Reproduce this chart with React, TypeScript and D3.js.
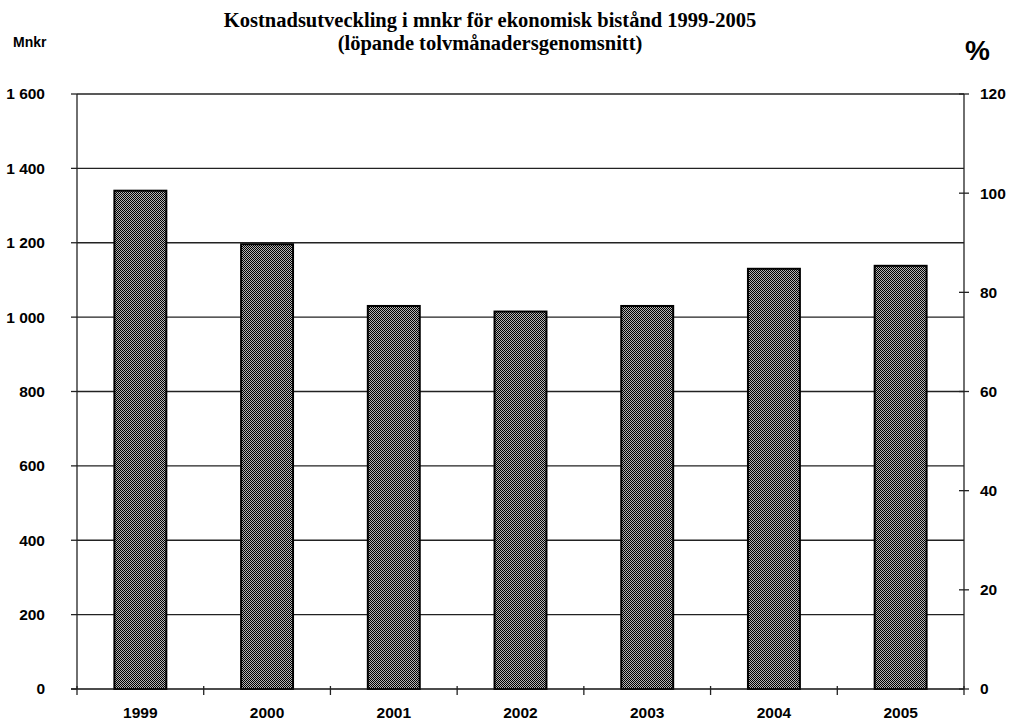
import React from "react";
import * as d3 from "d3";

const years = ["1999", "2000", "2001", "2002", "2003", "2004", "2005"];
const costs = [1340, 1196, 1030, 1015, 1030, 1130, 1138];
const leftTicks = [0, 200, 400, 600, 800, 1000, 1200, 1400, 1600];
const rightTicks = [0, 20, 40, 60, 80, 100, 120];
const titleLines = [
  "Kostnadsutveckling i mnkr för ekonomisk bistånd 1999-2005",
  "(löpande tolvmånadersgenomsnitt)",
];

const W = 1010;
const H = 723;
const L = 77;
const R = 964;
const T = 94;
const B = 689;

const fmt = (v: number) => {
  const s = String(v);
  return s.length > 3 ? s.slice(0, s.length - 3) + " " + s.slice(-3) : s;
};

export default function App() {
  const x = d3.scaleBand<string>().domain(years).range([L, R]).paddingInner(0.59).paddingOuter(0.295);
  const yL = d3.scaleLinear().domain([0, 1600]).range([B, T]);
  const yR = d3.scaleLinear().domain([0, 120]).range([B, T]);
  const step = x.step();
  const sep = d3.range(years.length + 1).map((i) => L + i * step);
  const sans = "'Liberation Sans', Arial, sans-serif";
  return (
    <svg width={W} height={H} style={{ position: "absolute", left: 0, top: 0, background: "#fff" }}>
      <defs>
        <pattern id="chk" width="2" height="2" patternUnits="userSpaceOnUse">
          <rect width="2" height="2" fill="#b4b4b4" />
          <rect x="0" y="0" width="1" height="1" fill="#000" />
          <rect x="1" y="1" width="1" height="1" fill="#000" />
        </pattern>
      </defs>
      {titleLines.map((t, i) => (
        <text key={i} x={490} y={27 + i * 23} textAnchor="middle"
          fontFamily="'Liberation Serif', 'Times New Roman', serif" fontWeight="bold" fontSize={20.5}>
          {t}
        </text>
      ))}
      <text x={13} y={47} fontFamily={sans} fontWeight="bold" fontSize={14}>Mnkr</text>
      <text x={965} y={60} fontFamily={sans} fontWeight="bold" fontSize={28}>%</text>
      {leftTicks.filter((v) => v > 0).map((v) => (
        <line key={"g" + v} x1={L} x2={R} y1={yL(v)} y2={yL(v)} stroke="#222" strokeWidth={1.3} />
      ))}
      {costs.map((c, i) => (
        <rect key={i} x={x(years[i])} y={yL(c)} width={x.bandwidth()} height={B - yL(c)}
          fill="url(#chk)" stroke="#000" strokeWidth={2} />
      ))}
      <line x1={L} x2={L} y1={T} y2={B} stroke="#222" strokeWidth={1.3} />
      <line x1={R} x2={R} y1={T} y2={B} stroke="#222" strokeWidth={1.3} />
      <line x1={L - 6} x2={R} y1={B} y2={B} stroke="#111" strokeWidth={1.5} />
      {leftTicks.map((v) => (
        <g key={"l" + v}>
          <line x1={L - 6} x2={L} y1={yL(v)} y2={yL(v)} stroke="#222" strokeWidth={1.3} />
          <text x={45} y={yL(v)} dy="0.35em" textAnchor="end" fontFamily={sans} fontWeight="bold" fontSize={15.5}>
            {fmt(v)}
          </text>
        </g>
      ))}
      {rightTicks.map((v) => (
        <g key={"r" + v}>
          <line x1={R - 5} x2={R + 5} y1={yR(v)} y2={yR(v)} stroke="#222" strokeWidth={1.3} />
          <text x={980} y={yR(v)} dy="0.35em" fontFamily={sans} fontWeight="bold" fontSize={15.5}>
            {v}
          </text>
        </g>
      ))}
      {sep.map((sx, i) => (
        <line key={"s" + i} x1={sx} x2={sx} y1={B - 3} y2={B + 6} stroke="#222" strokeWidth={1.3} />
      ))}
      {years.map((yv) => (
        <text key={yv} x={(x(yv) as number) + x.bandwidth() / 2} y={718} textAnchor="middle"
          fontFamily={sans} fontWeight="bold" fontSize={15.5}>
          {yv}
        </text>
      ))}
    </svg>
  );
}
